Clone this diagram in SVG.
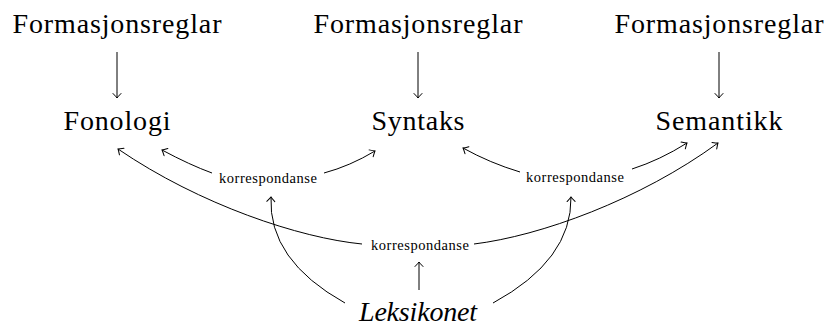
<svg xmlns="http://www.w3.org/2000/svg" width="826" height="321" viewBox="0 0 826 321">
  <style>
    .big { font-family: "Liberation Serif", "DejaVu Serif", serif; font-size: 28px; fill: #000; text-anchor: middle; }
    .lex { font-style: italic; }
    .lbl { font-family: "Liberation Serif", "DejaVu Serif", serif; font-size: 14.5px; fill: #000; text-anchor: middle; }
    .edge { fill: none; stroke: #000; stroke-width: 1; marker-end: url(#to); }
  </style>
  <defs>
    <!-- open "to"-style arrow tip with curved barbs -->
    <marker id="to" viewBox="-6 -5 8 10" markerWidth="8" markerHeight="10" refX="0" refY="0" orient="auto" markerUnits="userSpaceOnUse">
      <path d="M-4.5,-4 Q-1.2,-0.8 0,0 Q-1.2,0.8 -4.5,4" fill="none" stroke="#000" stroke-width="1" stroke-linecap="round"/>
    </marker>
  </defs>

  <g id="formasjon-fon"><text class="big" x="117" y="33" textLength="209" lengthAdjust="spacing">Formasjonsreglar</text></g>
  <g id="formasjon-syn"><text class="big" x="418" y="33" textLength="209" lengthAdjust="spacing">Formasjonsreglar</text></g>
  <g id="formasjon-sem"><text class="big" x="719" y="33" textLength="209" lengthAdjust="spacing">Formasjonsreglar</text></g>

  <g id="fonologi"><text class="big" x="117" y="130" textLength="107" lengthAdjust="spacing">Fonologi</text></g>
  <g id="syntaks"><text class="big" x="418" y="130" textLength="93" lengthAdjust="spacing">Syntaks</text></g>
  <g id="semantikk"><text class="big" x="719" y="130" textLength="127" lengthAdjust="spacing">Semantikk</text></g>

  <g id="korr-fon-syn"><text class="lbl" x="268" y="183" textLength="98" lengthAdjust="spacing">korrespondanse</text></g>
  <g id="korr-syn-sem"><text class="lbl" x="575" y="182" textLength="98" lengthAdjust="spacing">korrespondanse</text></g>
  <g id="korr-fon-sem"><text class="lbl" x="420" y="250" textLength="98" lengthAdjust="spacing">korrespondanse</text></g>

  <g id="leksikonet"><text class="big lex" x="418" y="321" textLength="118" lengthAdjust="spacing">Leksikonet</text></g>

  <g id="connectors">
    <!-- formation rules down to each component -->
    <path class="edge" d="M117,52 L117,98"/>
    <path class="edge" d="M418,52 L418,98"/>
    <path class="edge" d="M719,52 L719,98"/>

    <!-- phonology / syntax correspondence -->
    <path class="edge" d="M212,173 Q190,165 162,150"/>
    <path class="edge" d="M324,173 Q350,166 375,151"/>

    <!-- syntax / semantics correspondence -->
    <path class="edge" d="M520,172 Q490,163 463,148"/>
    <path class="edge" d="M632,169 Q660,160 687,143"/>

    <!-- phonology / semantics correspondence -->
    <path class="edge" d="M362,244 C300,238 200,205 118,149"/>
    <path class="edge" d="M474,244 C540,236 640,200 718,143"/>

    <!-- lexicon up to each correspondence -->
    <path class="edge" d="M345,303 Q268,260 271,197"/>
    <path class="edge" d="M493,303 Q572,260 571,197"/>
    <path class="edge" d="M419,290 L419,262"/>
  </g>
</svg>
